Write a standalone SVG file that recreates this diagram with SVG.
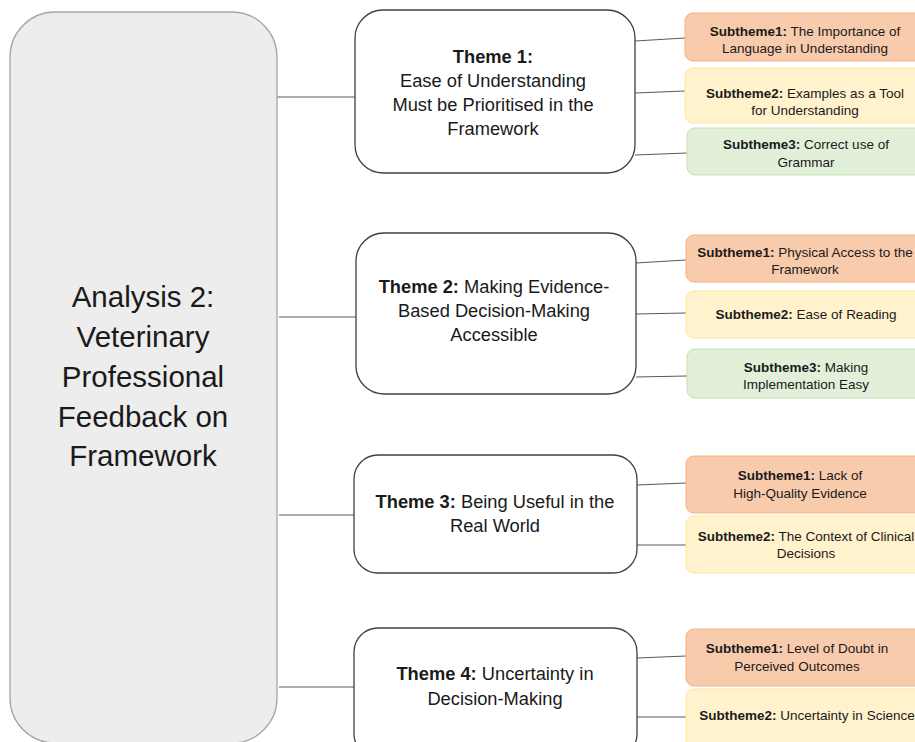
<svg xmlns="http://www.w3.org/2000/svg" width="915" height="742" viewBox="0 0 915 742">
<style>
text{font-family:"Liberation Sans",Arial,sans-serif;fill:#1a1a1a;text-anchor:middle}
.main{font-size:29.5px}
.th{font-size:18.3px}
.st{font-size:13.5px}
.theme{fill:#fff;stroke:#404040;stroke-width:1.3}
.o{fill:#F8CBAD;stroke:#F4B183;stroke-width:1}
.y{fill:#FFF2CC;stroke:#FFE699;stroke-width:1}
.g{fill:#E2F0D9;stroke:#C5E0B4;stroke-width:1}
.c line{stroke:#595959;stroke-width:1}
</style>
<rect width="915" height="742" fill="#fff"/>
<g id="connectors" class="c">
<line x1="277" y1="97" x2="355" y2="97"/>
<line x1="279" y1="317" x2="356" y2="317"/>
<line x1="279" y1="515" x2="354" y2="515"/>
<line x1="279" y1="687" x2="354" y2="687"/>
<line x1="635" y1="41" x2="685" y2="38"/>
<line x1="635" y1="93" x2="685" y2="91"/>
<line x1="635" y1="155" x2="687" y2="153"/>
<line x1="636" y1="263" x2="686" y2="260"/>
<line x1="636" y1="314" x2="686" y2="313"/>
<line x1="636" y1="377" x2="687" y2="376"/>
<line x1="637" y1="485" x2="686" y2="483"/>
<line x1="637" y1="545" x2="686" y2="545"/>
<line x1="637" y1="658" x2="686" y2="656"/>
<line x1="637" y1="717" x2="686" y2="717"/>
</g>
<g id="root">
<rect x="10" y="12" width="267" height="731" rx="45" fill="#EDEDED" stroke="#A6A6A6" stroke-width="1.3"/>
<text class="main"><tspan x="143" y="307">Analysis 2:</tspan><tspan x="143" y="347">Veterinary</tspan><tspan x="143" y="387">Professional</tspan><tspan x="143" y="427">Feedback on</tspan><tspan x="143" y="466">Framework</tspan></text>
</g>
<g id="theme1">
<rect class="theme" x="355" y="10" width="280" height="163" rx="28"/>
<text class="th"><tspan x="493" y="63" font-weight="bold">Theme 1:</tspan><tspan x="493" y="87">Ease of Understanding</tspan><tspan x="493" y="111">Must be Prioritised in the</tspan><tspan x="493" y="135">Framework</tspan></text>
</g>
<g id="theme2">
<rect class="theme" x="356" y="233" width="280" height="161" rx="28"/>
<text class="th"><tspan x="494" y="293"><tspan font-weight="bold">Theme 2:</tspan> Making Evidence-</tspan><tspan x="494" y="317">Based Decision-Making</tspan><tspan x="494" y="341">Accessible</tspan></text>
</g>
<g id="theme3">
<rect class="theme" x="354" y="455" width="283" height="118" rx="24"/>
<text class="th"><tspan x="495" y="508"><tspan font-weight="bold">Theme 3:</tspan> Being Useful in the</tspan><tspan x="495" y="532">Real World</tspan></text>
</g>
<g id="theme4">
<rect class="theme" x="354" y="628" width="283" height="130" rx="24"/>
<text class="th"><tspan x="495" y="680"><tspan font-weight="bold">Theme 4:</tspan> Uncertainty in</tspan><tspan x="495" y="705">Decision-Making</tspan></text>
</g>
<g id="t1s1">
<rect class="o" x="685" y="13" width="245" height="48" rx="8"/>
<text class="st"><tspan x="805" y="36"><tspan font-weight="bold">Subtheme1:</tspan> The Importance of</tspan><tspan x="805" y="53">Language in Understanding</tspan></text>
</g>
<g id="t1s2">
<rect class="y" x="685" y="68" width="245" height="55" rx="8"/>
<text class="st"><tspan x="805" y="98"><tspan font-weight="bold">Subtheme2:</tspan> Examples as a Tool</tspan><tspan x="805" y="115">for Understanding</tspan></text>
</g>
<g id="t1s3">
<rect class="g" x="687" y="128" width="245" height="47" rx="8"/>
<text class="st"><tspan x="806" y="149"><tspan font-weight="bold">Subtheme3:</tspan>  Correct use of</tspan><tspan x="806" y="167">Grammar</tspan></text>
</g>
<g id="t2s1">
<rect class="o" x="686" y="235" width="245" height="47" rx="8"/>
<text class="st"><tspan x="805" y="257"><tspan font-weight="bold">Subtheme1:</tspan> Physical Access to the</tspan><tspan x="805" y="274">Framework</tspan></text>
</g>
<g id="t2s2">
<rect class="y" x="686" y="291" width="245" height="47" rx="8"/>
<text class="st"><tspan x="806" y="319"><tspan font-weight="bold">Subtheme2:</tspan> Ease of Reading</tspan></text>
</g>
<g id="t2s3">
<rect class="g" x="687" y="349" width="245" height="49" rx="8"/>
<text class="st"><tspan x="806" y="372"><tspan font-weight="bold">Subtheme3:</tspan> Making</tspan><tspan x="806" y="389">Implementation Easy</tspan></text>
</g>
<g id="t3s1">
<rect class="o" x="686" y="456" width="245" height="57" rx="8"/>
<text class="st"><tspan x="800" y="480"><tspan font-weight="bold">Subtheme1:</tspan> Lack of</tspan><tspan x="800" y="498">High-Quality Evidence</tspan></text>
</g>
<g id="t3s2">
<rect class="y" x="686" y="516" width="245" height="57" rx="8"/>
<text class="st"><tspan x="806" y="541"><tspan font-weight="bold">Subtheme2:</tspan> The Context of Clinical</tspan><tspan x="806" y="558">Decisions</tspan></text>
</g>
<g id="t4s1">
<rect class="o" x="686" y="629" width="245" height="57" rx="8"/>
<text class="st"><tspan x="797" y="653"><tspan font-weight="bold">Subtheme1:</tspan> Level of Doubt in</tspan><tspan x="797" y="671">Perceived Outcomes</tspan></text>
</g>
<g id="t4s2">
<rect class="y" x="686" y="689" width="245" height="60" rx="8"/>
<text class="st"><tspan x="807" y="720"><tspan font-weight="bold">Subtheme2:</tspan> Uncertainty in Science</tspan></text>
</g>
</svg>
